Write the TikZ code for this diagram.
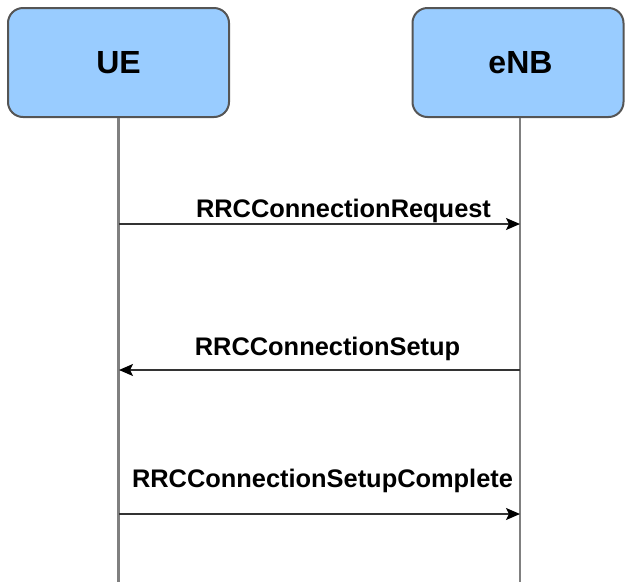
\documentclass[tikz,border=0pt]{standalone}
\usepackage{fontspec}
\setmainfont{Liberation Sans}
\usetikzlibrary{arrows.meta}
\definecolor{boxfill}{HTML}{99CCFF}
\definecolor{boxline}{HTML}{555555}
\definecolor{lifeline}{HTML}{808080}
\definecolor{msgline}{HTML}{333333}
\begin{document}
\begin{tikzpicture}[x=1pt,y=1pt,
  actor/.style={draw=boxline, line width=2pt, fill=boxfill, rounded corners=15pt,
    minimum height=109pt, inner sep=0pt, font=\fontsize{32}{38}\selectfont\bfseries},
  life/.style={draw=lifeline, line width=2.2pt},
  msg/.style={draw=msgline, line width=1.6pt, -{Stealth[length=14pt,width=12pt,inset=3pt,color=black]}},
  msglabel/.style={font=\fontsize{25.4}{30}\selectfont\bfseries, inner sep=0pt, anchor=base}
]
\useasboundingbox (0,0) rectangle (625,-582);
\node[actor, minimum width=221pt] (ue) at (118.5,-62.5) {UE};
\node[actor, minimum width=211pt, text width=211pt, align=center] (enb) at (518,-62.5) {\hspace*{5pt}eNB};
\coordinate (ueEnd) at (118.5,-582);
\coordinate (enbEnd) at (520,-582);
\draw[life] (ue.south) -- (ueEnd);
\draw[life] (enb.south -| enbEnd) -- (enbEnd);
% message anchors on the lifelines
\coordinate (ueA) at (119,-224);
\coordinate (enbA) at (520,-224);
\coordinate (ueB) at (119,-370);
\coordinate (enbB) at (520,-370);
\coordinate (ueC) at (119,-514);
\coordinate (enbC) at (520,-514);
\draw[msg] (ueA) -- (enbA);
\draw[msg] (enbB) -- (ueB);
\draw[msg] (ueC) -- (enbC);
\node[msglabel] (lA) at (343.5,-217) {RRCConnectionRequest};
\node[msglabel] (lB) at (327.5,-355) {RRCConnectionSetup};
\node[msglabel] (lC) at (322.5,-487) {RRCConnectionSetupComplete};
\end{tikzpicture}
\end{document}
